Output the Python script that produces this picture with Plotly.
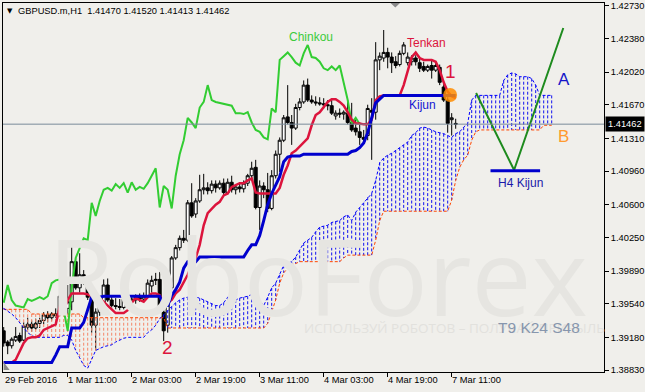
import plotly.graph_objects as go

# ---------------- data ----------------
symbol = "GBPUSD.m,H1"
bar_ticks = [16, 32, 48, 64, 80, 96, 112]
bar_tick_labels = ["1 Mar 11:00", "2 Mar 03:00", "2 Mar 19:00", "3 Mar 11:00",
                   "4 Mar 03:00", "4 Mar 19:00", "7 Mar 11:00"]
first_label = "29 Feb 2016"
price_ticks = [1.42730, 1.42380, 1.42020, 1.41670, 1.41310, 1.40960,
               1.40600, 1.40250, 1.39890, 1.39540, 1.39180, 1.38830]

open_ = [1.3925, 1.3913, 1.3909, 1.3915, 1.3920, 1.3915, 1.3929, 1.3932, 1.3928, 1.3933,
         1.3936, 1.3942, 1.3939, 1.3943, 1.3945, 1.3961, 1.3949, 1.3956, 1.3999, 1.3971,
         1.3985, 1.3976, 1.3961, 1.3931, 1.3945, 1.3955, 1.3974, 1.3958, 1.3952, 1.3951,
         1.3950, 1.3959, 1.3957, 1.3958, 1.3961, 1.3959, 1.3962, 1.3973, 1.3979, 1.3980,
         1.3945, 1.3931, 1.3971, 1.4003, 1.4014, 1.4024, 1.4022, 1.4062, 1.4050, 1.4064,
         1.4076, 1.4078, 1.4075, 1.4082, 1.4078, 1.4083, 1.4073, 1.4084, 1.4076, 1.4079,
         1.4077, 1.4083, 1.4091, 1.4100, 1.4057, 1.4080, 1.4076, 1.4056, 1.4091, 1.4114,
         1.4129, 1.4154, 1.4148, 1.4142, 1.4164, 1.4170, 1.4188, 1.4172, 1.4170, 1.4169,
         1.4168, 1.4167, 1.4166, 1.4155, 1.4158, 1.4157, 1.4158, 1.4148, 1.4142, 1.4138,
         1.4132, 1.4134, 1.4161, 1.4159, 1.4215, 1.4217, 1.4223, 1.4218, 1.4213, 1.4210,
         1.4222, 1.4212, 1.4213, 1.4217, 1.4212, 1.4208, 1.4204, 1.4209, 1.4204, 1.4207,
         1.4186, 1.4172, 1.4151, 1.41470]
high = [1.3929, 1.3915, 1.3918, 1.3929, 1.3923, 1.3934, 1.3939, 1.3936, 1.3938, 1.3939,
        1.3945, 1.3946, 1.3945, 1.3949, 1.3971, 1.3966, 1.3974, 1.4019, 1.4003, 1.4008,
        1.3990, 1.3979, 1.3963, 1.3949, 1.3958, 1.3980, 1.3981, 1.3962, 1.3960, 1.3959,
        1.3962, 1.3962, 1.3961, 1.3964, 1.3965, 1.3966, 1.3980, 1.3984, 1.3987, 1.3988,
        1.3948, 1.3974, 1.4005, 1.4017, 1.4027, 1.4033, 1.4065, 1.4083, 1.4067, 1.4092,
        1.4093, 1.4084, 1.4086, 1.4086, 1.4086, 1.4088, 1.4088, 1.4091, 1.4082, 1.4084,
        1.4086, 1.4093, 1.4106, 1.4108, 1.4086, 1.4084, 1.4094, 1.4097, 1.4118, 1.4132,
        1.4156, 1.4188, 1.4156, 1.4168, 1.4174, 1.4193, 1.4195, 1.4177, 1.4176, 1.4175,
        1.4174, 1.4172, 1.4172, 1.4161, 1.4163, 1.4161, 1.4172, 1.4169, 1.4151, 1.4148,
        1.4140, 1.4167, 1.4174, 1.4234, 1.4223, 1.4247, 1.4228, 1.4223, 1.4219, 1.4225,
        1.4234, 1.4223, 1.4220, 1.4220, 1.4217, 1.4213, 1.4210, 1.4215, 1.4212, 1.4210,
        1.4189, 1.4175, 1.4158, 1.41520]
low = [1.3908, 1.3900, 1.3906, 1.3913, 1.3912, 1.3914, 1.3926, 1.3924, 1.3926, 1.3928,
       1.3932, 1.3934, 1.3936, 1.3939, 1.3941, 1.3942, 1.3942, 1.3947, 1.3969, 1.3966,
       1.3974, 1.3958, 1.3923, 1.3904, 1.3941, 1.3952, 1.3956, 1.3950, 1.3948, 1.3947,
       1.3948, 1.3955, 1.3952, 1.3954, 1.3956, 1.3956, 1.3960, 1.3966, 1.3974, 1.3945,
       1.3914, 1.3923, 1.3969, 1.4001, 1.4011, 1.4019, 1.4020, 1.4046, 1.4046, 1.4062,
       1.4071, 1.4071, 1.4072, 1.4073, 1.4076, 1.4070, 1.4071, 1.4073, 1.4071, 1.4073,
       1.4073, 1.4080, 1.4086, 1.4055, 1.4033, 1.4067, 1.4052, 1.4054, 1.4088, 1.4095,
       1.4127, 1.4146, 1.4124, 1.4140, 1.4161, 1.4168, 1.4170, 1.4168, 1.4166, 1.4166,
       1.4163, 1.4161, 1.4156, 1.4151, 1.4153, 1.4151, 1.4146, 1.4138, 1.4134, 1.4124,
       1.4127, 1.4129, 1.4108, 1.4151, 1.4204, 1.4213, 1.4206, 1.4201, 1.4206, 1.4208,
       1.4220, 1.4209, 1.4209, 1.4209, 1.4202, 1.4202, 1.4202, 1.4195, 1.4202, 1.4188,
       1.4170, 1.4137, 1.4134, 1.41413]
close = [1.3912, 1.3909, 1.3916, 1.3919, 1.3914, 1.3930, 1.3932, 1.3928, 1.3933, 1.3936,
         1.3942, 1.3939, 1.3943, 1.3941, 1.3962, 1.3949, 1.3956, 1.3999, 1.3971, 1.3985,
         1.3976, 1.3961, 1.3931, 1.3945, 1.3955, 1.3974, 1.3958, 1.3952, 1.3951, 1.3950,
         1.3959, 1.3957, 1.3959, 1.3961, 1.3959, 1.3962, 1.3976, 1.3979, 1.3980, 1.3947,
         1.3925, 1.3971, 1.4003, 1.4014, 1.4024, 1.4022, 1.4062, 1.4048, 1.4064, 1.4076,
         1.4078, 1.4075, 1.4082, 1.4078, 1.4083, 1.4073, 1.4084, 1.4076, 1.4079, 1.4077,
         1.4083, 1.4091, 1.4099, 1.4057, 1.4080, 1.4076, 1.4056, 1.4091, 1.4114, 1.4129,
         1.4153, 1.4148, 1.4142, 1.4164, 1.4170, 1.4188, 1.4172, 1.4170, 1.4169, 1.4168,
         1.4167, 1.4166, 1.4158, 1.4158, 1.4157, 1.4159, 1.4148, 1.4140, 1.4138, 1.4132,
         1.4130, 1.4163, 1.4159, 1.4215, 1.4219, 1.4223, 1.4218, 1.4212, 1.4209, 1.4222,
         1.4231, 1.4218, 1.4217, 1.4213, 1.4206, 1.4204, 1.4208, 1.4204, 1.4209, 1.4191,
         1.4172, 1.4147, 1.4153, 1.41462]

tenkan = [1.3891, 1.3891, 1.3891, 1.3894, 1.3904, 1.3912, 1.3917, 1.3918, 1.3918, 1.3920,
          1.3926, 1.3928, 1.3930, 1.3932, 1.3950, 1.3947, 1.3958, 1.3965, 1.3965, 1.3965,
          1.3965, 1.3964, 1.3962, 1.3961, 1.3960, 1.3956, 1.3952, 1.3947, 1.3944, 1.3944,
          1.3944, 1.3947, 1.3955, 1.3960, 1.3958, 1.3956, 1.3961, 1.3965, 1.3965, 1.3963,
          1.3955, 1.3955, 1.3958, 1.3965, 1.3969, 1.3977, 1.3985, 1.3995, 1.4003, 1.4017,
          1.4038, 1.4051, 1.4056, 1.4060, 1.4063, 1.4070, 1.4072, 1.4079, 1.4081, 1.4083,
          1.4083, 1.4086, 1.4088, 1.4073, 1.4072, 1.4072, 1.4072, 1.4072, 1.4072, 1.4078,
          1.4092, 1.4102, 1.4115, 1.4118, 1.4122, 1.4127, 1.4131, 1.4145, 1.4156, 1.4159,
          1.4164, 1.4170, 1.4173, 1.4173, 1.4170, 1.4166, 1.4159, 1.4151, 1.4147, 1.4147,
          1.4146, 1.4146, 1.4151, 1.4172, 1.4176, 1.4177, 1.4177, 1.4177, 1.4177, 1.4177,
          1.4188, 1.4204, 1.4218, 1.4223, 1.4217, 1.4215, 1.4215, 1.4215, 1.4213, 1.4204,
          1.4191, 1.4181, 1.4176, 1.4174]
kijun = ([1.3891] * 13 + [1.3899] + [1.3908] * 3 + [1.3928] * 3 + [1.3934, 1.3947]
         + [1.3961] * 3 + [1.3962] * 15 + [1.3952] * 2 + [1.3963, 1.3969, 1.3977, 1.3992]
         + [1.3999] * 3 + [1.4004] * 12 + [1.4011] + [1.4017] * 2
         + [1.4027, 1.4043, 1.4060, 1.4072, 1.4081, 1.4090, 1.4106, 1.4111]
         + [1.4112] * 3 + [1.4114] * 12
         + [1.4117, 1.4118, 1.4121, 1.4126, 1.4137, 1.4154, 1.4169, 1.4173] + [1.4177] * 19)
senkou_a = [1.3949, 1.3946, 1.3943, 1.3939, 1.3934, 1.3928, 1.3923, 1.3920, 1.3918, 1.3918,
            1.3918, 1.3918, 1.3918, 1.3918, 1.3918, 1.3920, 1.3920, 1.3915, 1.3904, 1.3896,
            1.3888, 1.3885, 1.3894, 1.3904, 1.3906, 1.3908, 1.3909, 1.3910, 1.3913, 1.3915,
            1.3917, 1.3918, 1.3918, 1.3918, 1.3918, 1.3918, 1.3923, 1.3926, 1.3931, 1.3938,
            1.3942, 1.3947, 1.3951, 1.3955, 1.3958, 1.3960, 1.3961, 1.3961, 1.3961, 1.3960,
            1.3958, 1.3956, 1.3954, 1.3952, 1.3952, 1.3955, 1.3961, 1.3961, 1.3958, 1.3960,
            1.3961, 1.3962, 1.3964, 1.3961, 1.3957, 1.3952, 1.3961, 1.3971, 1.3976, 1.3985,
            1.3995, 1.3997, 1.3999, 1.4004, 1.4011, 1.4019, 1.4022, 1.4025, 1.4031, 1.4036,
            1.4037, 1.4038, 1.4041, 1.4042, 1.4043, 1.4047, 1.4049, 1.4043, 1.4052, 1.4057,
            1.4062, 1.4068, 1.4072, 1.4086, 1.4105, 1.4110, 1.4113, 1.4115, 1.4118, 1.4121,
            1.4124, 1.4127, 1.4134, 1.4137, 1.4142, 1.4143, 1.4142, 1.4140, 1.4138, 1.4137,
            1.4136, 1.4134, 1.4132, 1.4136, 1.4138, 1.4143, 1.4147, 1.4172, 1.4177, 1.4177,
            1.4177, 1.4177, 1.4177, 1.4177, 1.4177, 1.4193, 1.4199, 1.4201, 1.4200, 1.4197,
            1.4197, 1.4197, 1.4195, 1.4188, 1.4177, 1.4177, 1.4177, 1.4177]
senkou_b = ([1.3948] * 7 + [1.3943] * 13 + [1.3939] * 21 + [1.3928] * 25
            + [1.3933, 1.3945, 1.3958, 1.3976, 1.3987, 1.3992, 1.3996, 1.3997]
            + [1.3999] * 11 + [1.4003] + [1.4006] * 7 + [1.4022, 1.4043] + [1.4053] * 17
            + [1.4065, 1.4086, 1.4100, 1.4108, 1.4113, 1.4129, 1.4138]
            + [1.4140] * 16 + [1.4145] * 3)
chinkou_shift = 24

# analyst drawings
proj_bar = [118.1, 127.6, 139.9]
proj_price = [1.41795, 1.40971, 1.42491]
h4_kijun_bar = [121.7, 134.1]
h4_kijun_price = 1.40962
cross_bar = 111.6
cross_price = 1.41774

# ---------------- figure ----------------
BG = "#F0EFEB"
FONT = "Liberation Sans"
bars = list(range(len(close)))

fig = go.Figure()

# watermark
fig.add_annotation(x=78.5, y=1.3985, xref="x", yref="y", text="RoboForex", showarrow=False,
                   font=dict(family="Open Sans", size=107, color="#E6E5E1"))
fig.add_annotation(x=74.6, y=1.3928, xref="x", yref="y", xanchor="left",
                   text="ИСПОЛЬЗУЙ РОБОТОВ – ПОЛУЧАЙ ПРИБЫЛЬ", showarrow=False,
                   font=dict(family="Open Sans", size=13.5, color="#E2E1DD"))

# cloud hatching
bx, by, ox, oy = [], [], [], []
for i, (a, b) in enumerate(zip(senkou_a, senkou_b)):
    if a >= b:
        bx += [i, i, None]; by += [a, b, None]
    else:
        ox += [i, i, None]; oy += [b, a, None]
fig.add_trace(go.Scatter(x=ox, y=oy, mode="lines", hoverinfo="skip",
                         line=dict(color="#F4876A", width=1, dash="3px,2px")))
fig.add_trace(go.Scatter(x=bx, y=by, mode="lines", hoverinfo="skip",
                         line=dict(color="#1010F0", width=1, dash="3px,2px")))
cloud_x = list(range(len(senkou_a)))
fig.add_trace(go.Scatter(x=cloud_x, y=senkou_b, mode="lines",
                         line=dict(color="#FF4500", width=1, dash="3px,2px")))
fig.add_trace(go.Scatter(x=cloud_x, y=senkou_a, mode="lines",
                         line=dict(color="#0000FF", width=1, dash="3px,2px")))

# price line
fig.add_shape(type="line", xref="paper", x0=0, x1=1, yref="y", y0=close[-1], y1=close[-1],
              line=dict(color="#7A8A9A", width=1))

# MT4 chart-shift and scroll markers
fig.add_shape(type="path", xref="paper", yref="paper",
              path="M 0.6448 1 L 0.6606 1 L 0.6527 0.9878 Z",
              fillcolor="#8A8A8A", line=dict(width=0))
fig.add_shape(type="path", xref="paper", yref="paper",
              path="M 0.001 0.0271 L 0.001 0.0054 L 0.011 0.0054 Z",
              fillcolor="#8A8A8A", line=dict(width=0))

# candles
fig.add_trace(go.Candlestick(x=bars, open=open_, high=high, low=low, close=close,
                             increasing=dict(line=dict(color="black", width=1), fillcolor="white"),
                             decreasing=dict(line=dict(color="black", width=1), fillcolor="black"),
                             whiskerwidth=0, hoverinfo="skip"))

# Ichimoku lines
fig.add_trace(go.Scatter(x=bars[:len(close) - chinkou_shift], y=close[chinkou_shift:], mode="lines",
                         line=dict(color="#32CD32", width=2)))
fig.add_trace(go.Scatter(x=bars, y=tenkan, mode="lines", line=dict(color="#DC143C", width=2.5)))
fig.add_trace(go.Scatter(x=bars, y=kijun, mode="lines", line=dict(color="#0000CD", width=3)))

# drawings
fig.add_trace(go.Scatter(x=proj_bar, y=proj_price, mode="lines",
                         line=dict(color="#1E8B1E", width=2)))
fig.add_trace(go.Scatter(x=h4_kijun_bar, y=[h4_kijun_price] * 2, mode="lines",
                         line=dict(color="#0000CD", width=3)))
fig.add_trace(go.Scatter(x=[cross_bar], y=[cross_price], mode="markers",
                         marker=dict(size=14, color="rgba(255,140,0,0.85)")))

# labels
labels = [
    ("Chinkou", 76.7, 1.42395, "#3CCB3C", 12),
    ("Tenkan", 105.8, 1.42336, "#DC143C", 12),
    ("Kijun", 104.7, 1.41672, "#1414D2", 12),
    ("1", 111.8, 1.42026, "#DC143C", 19),
    ("2", 40.9, 1.39071, "#DC143C", 19),
    ("A", 140.1, 1.41945, "#1414C8", 17),
    ("B", 139.9, 1.41335, "#FF9A2E", 17),
    ("H4 Kijun", 129.1, 1.40827, "#1A1AAA", 12),
    ("T9 K24 S48", 133.8, 1.39290, "#8796AD", 15.5),
]
for txt, xb, yp, col, sz in labels:
    fig.add_annotation(x=xb, y=yp, xref="x", yref="y", text=txt, showarrow=False,
                       font=dict(family=FONT, size=sz, color=col))

# header
fig.add_annotation(xref="paper", yref="paper", x=0, y=1, xanchor="left", yanchor="middle",
                   xshift=2, yshift=-8, text="▼", showarrow=False,
                   font=dict(family="DejaVu Sans", size=7, color="black"))
header = (symbol + "\u00a0\u00a0" + " ".join(f"{v:.5f}" for v in
          (open_[-1], high[-1], low[-1], close[-1])))
fig.add_annotation(xref="paper", yref="paper", x=0, y=1, xanchor="left", yanchor="middle",
                   xshift=13, yshift=-8, text=header, showarrow=False,
                   font=dict(family=FONT, size=9.3, color="black"))

# x labels (MT4 style: to the right of the tick)
fig.add_annotation(xref="x", yref="paper", x=-0.175, y=0, xanchor="left", yanchor="top",
                   yshift=-1, text=first_label, showarrow=False,
                   font=dict(family=FONT, size=9.3, color="black"))
for tv, tt in zip(bar_ticks, bar_tick_labels):
    fig.add_annotation(xref="x", yref="paper", x=tv, y=0, xanchor="left", yanchor="top",
                       xshift=-2, yshift=-1, text=tt, showarrow=False,
                       font=dict(family=FONT, size=9.3, color="black"))

# current price tag
fig.add_annotation(xref="paper", yref="y", x=1, y=close[-1], xanchor="left", yanchor="middle",
                   xshift=1, text=f"{close[-1]:.5f}", showarrow=False, bgcolor="black",
                   borderpad=2, font=dict(family=FONT, size=9.3, color="white"))

fig.update_layout(
    width=645, height=392, template="none", showlegend=False,
    margin=dict(l=3, r=41, t=3, b=20),
    paper_bgcolor=BG, plot_bgcolor=BG, boxgap=0.25, boxgroupgap=0,
    font=dict(family=FONT, size=9.3, color="black"),
    xaxis=dict(range=[-0.175, 150.075], tickvals=bar_ticks, showticklabels=False,
               ticks="outside", ticklen=4, tickcolor="black", showgrid=False, zeroline=False,
               showline=True, linecolor="black", linewidth=1, mirror=True,
               rangeslider=dict(visible=False), automargin=False),
    yaxis=dict(side="right", range=[1.38809, 1.42759], tickvals=price_ticks,
               ticktext=[f"{v:.5f}" for v in price_ticks], ticks="outside", ticklen=4,
               tickcolor="black", showgrid=False, zeroline=False, showline=True,
               linecolor="black", linewidth=1, mirror=True, automargin=False,
               tickfont=dict(family=FONT, size=9.3, color="black")),
)

fig.write_html("out.html")
